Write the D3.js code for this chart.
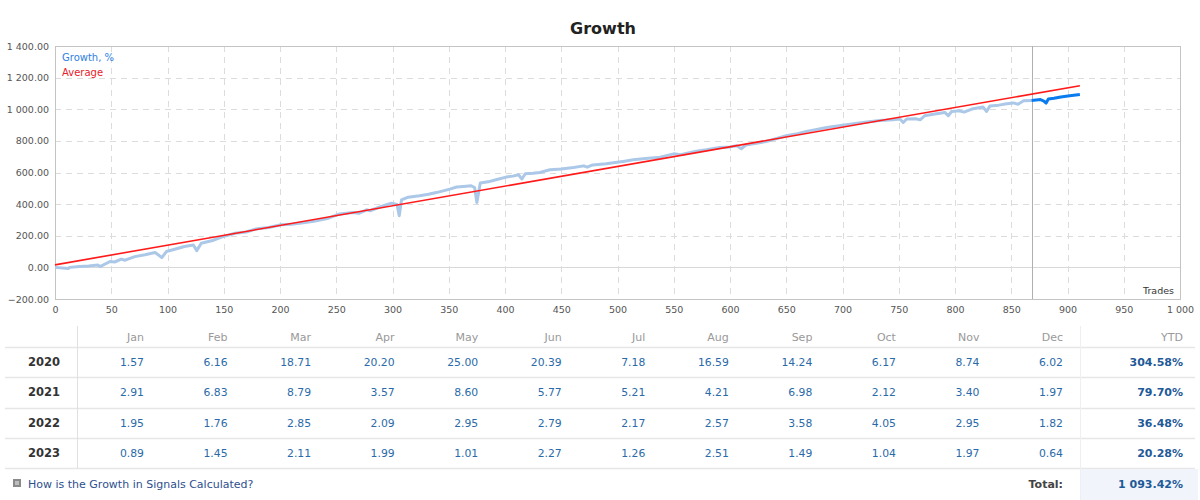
<!DOCTYPE html>
<html><head><meta charset="utf-8">
<script src="https://cdn.jsdelivr.net/npm/d3@7"></script>
<style>
html,body{margin:0;padding:0;background:#fff;}
svg{display:block;}
text{font-family:"DejaVu Sans",Verdana,sans-serif;}
</style></head>
<body>
<svg id="c" width="1200" height="500"></svg>
<script>
// ---- data ----
const trades = [0,12,13,22,30,38,40,49,53,59,62,66,71,80,89,95,99,108,115,123,126,130,140,148,160,170,178,190,201,210,219,230,243,253,265,270,277,280,290,299,304,306,308,314,324,332,339,345,351,357,363,370,373,375,378,385,392,401,407,412,415,418,425,431,440,450,461,470,473,478,490,498,505,514,525,538,550,556,562,570,579,591,600,606,610,614,622,632,640,650,660,668,676,686,697,710,720,733,745,751,754,757,765,769,773,782,791,794,797,804,808,815,825,828,831,839,846,852,856,861,868,876,879,881,883,888,894,902,911];
const growth = [0,-7,0,5,8,15,5,37,34,52,45,55,68,80,94,62,100,118,132,142,106,153,170,191,216,224,242,252,269,272,280,292,311,338,347,342,364,358,385,406,398,326,427,444,453,462,473,484,495,508,512,516,505,410,533,541,554,571,577,586,559,592,595,600,617,622,632,642,634,648,655,663,670,680,688,697,718,713,722,735,744,758,762,769,750,773,783,796,812,832,846,860,871,885,896,908,918,929,933,938,916,938,940,933,959,970,980,959,986,990,982,1001,1014,986,1020,1026,1035,1040,1032,1054,1056,1061,1052,1039,1065,1070,1078,1085,1093];
const splitTrade = 868;
const avgTrades = [0,911];
const avgValues = [16,1149];
const yTicks = [-200,0,200,400,600,800,1000,1200,1400];
const xTicks = [0,50,100,150,200,250,300,350,400,450,500,550,600,650,700,750,800,850,900,950,1000];

const months = ["Jan","Feb","Mar","Apr","May","Jun","Jul","Aug","Sep","Oct","Nov","Dec"];
const years = ["2020","2021","2022","2023"];
const m2020 = ["1.57","6.16","18.71","20.20","25.00","20.39","7.18","16.59","14.24","6.17","8.74","6.02"];
const m2021 = ["2.91","6.83","8.79","3.57","8.60","5.77","5.21","4.21","6.98","2.12","3.40","1.97"];
const m2022 = ["1.95","1.76","2.85","2.09","2.95","2.79","2.17","2.57","3.58","4.05","2.95","1.82"];
const m2023 = ["0.89","1.45","2.11","1.99","1.01","2.27","1.26","2.51","1.49","1.04","1.97","0.64"];
const ytd = ["304.58%","79.70%","36.48%","20.28%"];
const totalLabel = "Total:";
const totalValue = "1 093.42%";
const linkText = "How is the Growth in Signals Calculated?";

// ---- chart ----
const svg = d3.select("#c");
const loc = d3.formatLocale({decimal:".",thousands:" ",grouping:[3],currency:["",""]});
const fy = loc.format(",.2f"), fx = loc.format(",d");
const L=55,R=1180,T=46,B=299;
const x = d3.scaleLinear().domain([0,1000]).range([L,R]);
const y = d3.scaleLinear().domain([-200,1400]).range([B,T]);

svg.append("text").attr("x",603).attr("y",34).attr("text-anchor","middle")
  .attr("font-size",16).attr("font-weight","bold").attr("fill","#222").text("Growth");

// grid
const g = svg.append("g");
g.selectAll(".hg").data(yTicks.filter(d=>d!==-200&&d!==1400)).join("line")
  .attr("x1",L).attr("x2",R).attr("y1",d=>Math.round(y(d))+0.5).attr("y2",d=>Math.round(y(d))+0.5)
  .attr("stroke",d=>d===0?"#d8d8d8":"#dcdcdc").attr("stroke-width",1)
  .attr("stroke-dasharray",d=>d===0?null:"6,5");
g.selectAll(".vg").data(xTicks.filter(d=>d!==0&&d!==1000)).join("line")
  .attr("x1",d=>Math.round(x(d))+0.5).attr("x2",d=>Math.round(x(d))+0.5).attr("y1",T).attr("y2",B)
  .attr("stroke","#dcdcdc").attr("stroke-dasharray","6,5");
// frame
svg.append("rect").attr("x",L+0.5).attr("y",T+0.5).attr("width",R-L).attr("height",B-T)
  .attr("fill","none").attr("stroke","#c4c4c4");

// axes
const yAxis = d3.axisLeft(y).tickValues(yTicks).tickFormat(fy).tickSize(0).tickPadding(6);
const ya = svg.append("g").attr("transform",`translate(${L},0)`).call(yAxis);
const xAxis = d3.axisBottom(x).tickValues(xTicks).tickFormat(fx).tickSize(0).tickPadding(7);
const xa = svg.append("g").attr("transform",`translate(0,${B})`).call(xAxis);
[ya,xa].forEach(a=>{a.select(".domain").remove();
  a.selectAll("text").attr("font-size",9.5).attr("fill","#555").attr("font-family","DejaVu Sans, sans-serif");});

// split marker
svg.append("line").attr("x1",Math.round(x(splitTrade))+0.5).attr("x2",Math.round(x(splitTrade))+0.5)
  .attr("y1",T).attr("y2",B).attr("stroke","#b0b0b0").attr("stroke-width",1);

svg.append("text").attr("x",R-6).attr("y",B-5).attr("text-anchor","end")
  .attr("font-size",9.5).attr("fill","#333").text("Trades");

// lines
const pts = trades.map((t,i)=>({t,v:growth[i]}));
const line = d3.line().x(d=>x(d.t)).y(d=>y(d.v));
svg.append("path").datum(pts.filter(d=>d.t<=splitTrade)).attr("d",line)
  .attr("fill","none").attr("stroke","#abc8e8").attr("stroke-width",3).attr("stroke-linejoin","round");
svg.append("path").datum(pts.filter(d=>d.t>=splitTrade)).attr("d",line)
  .attr("fill","none").attr("stroke","#0a7cf0").attr("stroke-width",3).attr("stroke-linejoin","round");
svg.append("path").datum(avgTrades.map((t,i)=>({t,v:avgValues[i]}))).attr("d",line)
  .attr("fill","none").attr("stroke","#ff1a1a").attr("stroke-width",1.6);

// legend
svg.append("text").attr("x",62).attr("y",61).attr("font-size",10).attr("fill","#2f7fe0").text("Growth, %");
svg.append("text").attr("x",62).attr("y",76).attr("font-size",10).attr("fill","#e8222a").text("Average");

// ---- table ----
const tb = svg.append("g");
const colR = d3.scaleLinear().domain([0,11]).range([144,1063]);
const rowY = [362,392,423,453];
const sepY = [347,377,408,438,468];
tb.selectAll(".hs").data(sepY).join("line").attr("x1",5).attr("x2",1195)
  .attr("y1",d=>d+0.5).attr("y2",d=>d+0.5).attr("stroke","#e6e6e6").attr("stroke-width",1.5);
tb.append("rect").attr("x",1080).attr("y",469).attr("width",118).attr("height",31).attr("fill","#f1f5fb");
tb.append("line").attr("x1",77.5).attr("x2",77.5).attr("y1",326).attr("y2",468).attr("stroke","#e0e0e0");
tb.append("line").attr("x1",1080.5).attr("x2",1080.5).attr("y1",326).attr("y2",500).attr("stroke","#eceff3");

tb.selectAll(".mh").data(months).join("text").attr("x",(d,i)=>colR(i)).attr("y",341)
  .attr("text-anchor","end").attr("font-size",11).attr("fill","#999").text(d=>d);
tb.append("text").attr("x",1183).attr("y",341).attr("text-anchor","end")
  .attr("font-size",11).attr("fill","#999").text("YTD");

const rows=[m2020,m2021,m2022,m2023];
years.forEach((yr,r)=>{
  tb.append("text").attr("x",28).attr("y",rowY[r]+4).attr("font-size",11.5).attr("font-weight","bold")
    .attr("fill","#333").text(yr);
  tb.selectAll(".v"+r).data(rows[r]).join("text").attr("x",(d,i)=>colR(i)).attr("y",rowY[r]+4)
    .attr("text-anchor","end").attr("font-size",10.8).attr("fill","#2a6aa8").text(d=>d);
  tb.append("text").attr("x",1183).attr("y",rowY[r]+4).attr("text-anchor","end")
    .attr("font-size",11).attr("font-weight","bold").attr("fill","#1f5a98").text(ytd[r]);
});
tb.append("rect").attr("x",13).attr("y",479).attr("width",8).attr("height",8).attr("fill","#8a8a8a");
tb.append("rect").attr("x",15).attr("y",481).attr("width",4).attr("height",4).attr("fill","#bdbdbd");
tb.append("text").attr("x",28).attr("y",488).attr("font-size",11).attr("fill","#2d4f8e").text(linkText);
tb.append("text").attr("x",1063).attr("y",488).attr("text-anchor","end").attr("font-size",11)
  .attr("font-weight","bold").attr("fill","#444").text(totalLabel);
tb.append("text").attr("x",1183).attr("y",488).attr("text-anchor","end").attr("font-size",11)
  .attr("font-weight","bold").attr("fill","#1f5a98").text(totalValue);
</script>
</body></html>
